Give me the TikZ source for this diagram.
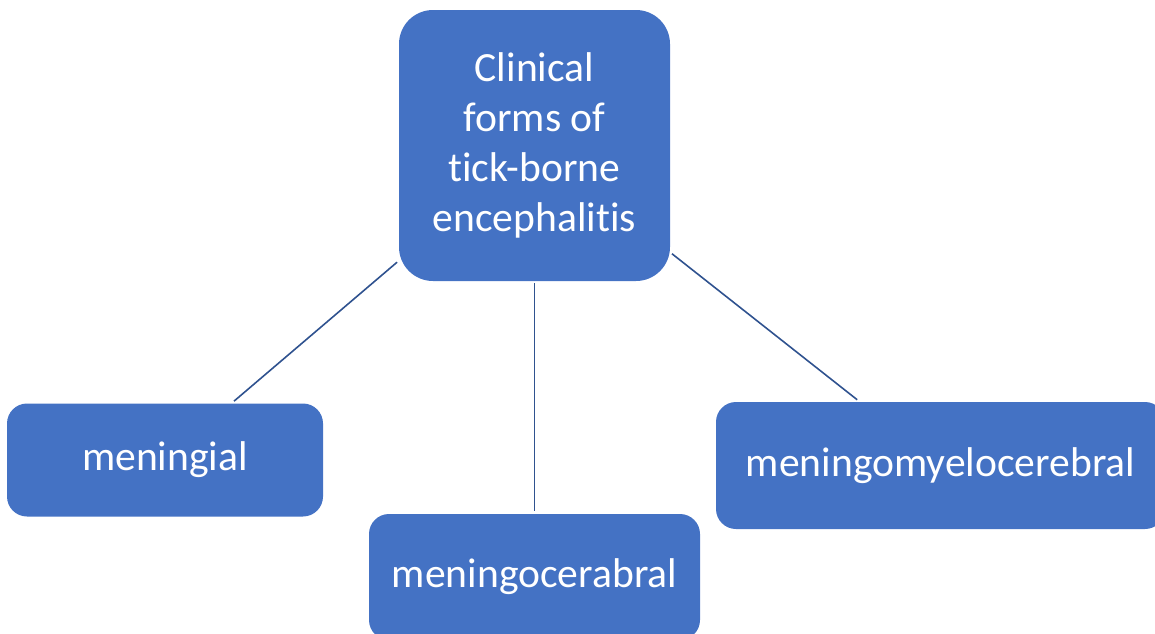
\documentclass[tikz,border=0pt]{standalone}
\usepackage{fontspec}
\setmainfont{Carlito}[Ligatures=NoCommon]
\usetikzlibrary{positioning}

\definecolor{boxblue}{HTML}{4472C4}
\definecolor{linkblue}{HTML}{2F528F}

\begin{document}
\begin{tikzpicture}[x=0.5pt,y=-0.5pt,
every node/.style={fill=boxblue,text=white,inner sep=0pt,align=center,
  rounded corners=10pt,font=\fontsize{20.8}{25}\selectfont},
link/.style={draw=linkblue,line width=0.8pt,shorten <=1pt,shorten >=1.5pt}]

\useasboundingbox (0,0) rectangle (1155,633);
\clip (0,0) rectangle (1155,633);

\node[minimum width=135.5pt,minimum height=135.5pt,rounded corners=17pt] (forms) at (534.5,145.5)
  {Clinical\\forms of\\tick-borne\\encephalitis};
\node[minimum width=158pt,minimum height=56.5pt] (meningial) at (165,460) {meningial};
\node[minimum width=165.5pt,minimum height=63pt] (cerebral) at (534.5,577) {meningocerabral};
\node[minimum width=224.5pt,minimum height=63.5pt] (myelo) at (940.5,465.5) {meningomyelocerebral};

\draw[link] (forms)--(meningial);
\draw[link] (forms.south)--(cerebral.north);
\draw[link] (forms)--(myelo);

\end{tikzpicture}
\end{document}
